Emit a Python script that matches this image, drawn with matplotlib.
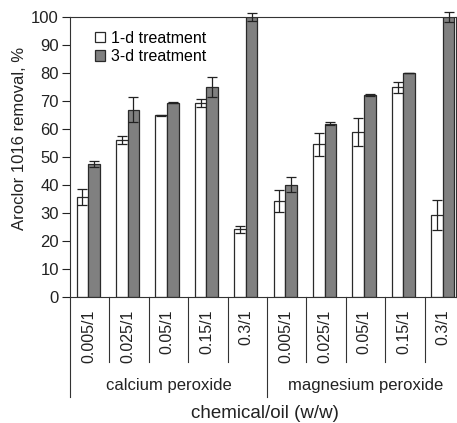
import matplotlib
matplotlib.use("Agg")
import matplotlib.pyplot as plt
import matplotlib.transforms as mtrans
import numpy as np

plt.rcParams['font.family'] = ['Liberation Sans', 'DejaVu Sans']

# data
ratios = ['0.005/1', '0.025/1', '0.05/1', '0.15/1', '0.3/1',
          '0.005/1', '0.025/1', '0.05/1', '0.15/1', '0.3/1']
chemicals = ['calcium peroxide', 'magnesium peroxide']
one_day = [35.6, 56.1, 64.8, 69.2, 24.2, 34.2, 54.5, 59.0, 74.9, 29.2]
one_day_err = [2.8, 1.4, 0.3, 1.5, 1.3, 4.0, 4.2, 5.0, 1.9, 5.4]
three_day = [47.4, 66.8, 69.4, 74.9, 100.0, 40.1, 61.8, 72.1, 80.0, 100.0]
three_day_err = [1.0, 4.5, 0.3, 3.5, 1.5, 2.8, 0.5, 0.2, 0.1, 1.8]

fig = plt.figure(figsize=(4.57, 4.23), dpi=100)
ax = fig.add_axes([0.153, 0.298, 0.845, 0.662])

x = np.arange(len(ratios))
w = 0.295
edge = '#2a2a2a'
ax.bar(x - 0.185, one_day, w, color='white', edgecolor=edge, linewidth=0.9,
       label='1-d treatment', zorder=2)
ax.bar(x + 0.11, three_day, w, color='#808080', edgecolor=edge, linewidth=0.9,
       label='3-d treatment', zorder=2)
ax.errorbar(x - 0.185, one_day, yerr=one_day_err, fmt='none', ecolor='#222222',
            elinewidth=0.9, capsize=3.5, capthick=0.9, zorder=3, clip_on=False)
ax.errorbar(x + 0.11, three_day, yerr=three_day_err, fmt='none', ecolor='#222222',
            elinewidth=0.9, capsize=3.5, capthick=0.9, zorder=3, clip_on=False)

ax.set_xlim(-0.5, 9.3)
ax.set_ylim(0, 100)
ax.set_yticks(range(0, 101, 10))
ax.tick_params(axis='y', direction='out', length=6, width=0.8, labelsize=12,
               colors='#222222', pad=2)
ax.set_xticks([])
for s in ax.spines.values():
    s.set_linewidth(0.8)
    s.set_color('#333333')
ax.set_ylabel('Aroclor 1016 removal, %', fontsize=12, color='#222222')
ax.yaxis.set_label_coords(-0.11, 0.565)

# category axis drawn by hand below the plot
trans = mtrans.blended_transform_factory(ax.transData, ax.transAxes)
for k in range(1, 10):
    if k == 5:
        continue
    ax.plot([k - 0.5, k - 0.5], [0, -0.232], transform=trans, color='#333333',
            lw=0.8, clip_on=False)
for xv in [-0.5, 4.5]:
    ax.plot([xv, xv], [0, -0.357], transform=trans, color='#333333',
            lw=0.8, clip_on=False)
for i, lab in enumerate(ratios):
    ax.text(i - 0.03, -0.045, lab, transform=trans, rotation=90, ha='center',
            va='top', fontsize=11.5, color='#222222')
for j, chem in enumerate(chemicals):
    ax.text(j * 5 + 2.0, -0.315, chem, transform=trans, ha='center',
            va='center', fontsize=12, color='#222222')
ax.text(4.45, -0.415, 'chemical/oil (w/w)', transform=trans, ha='center',
        va='center', fontsize=13.5, color='#222222')

ax.legend(loc='upper left', bbox_to_anchor=(0.037, 0.99), frameon=False,
          fontsize=11.5, handlelength=0.6, handleheight=0.6, handletextpad=0.4,
          labelspacing=0.2, borderpad=0.2)

fig.savefig('out.png', dpi=100)
